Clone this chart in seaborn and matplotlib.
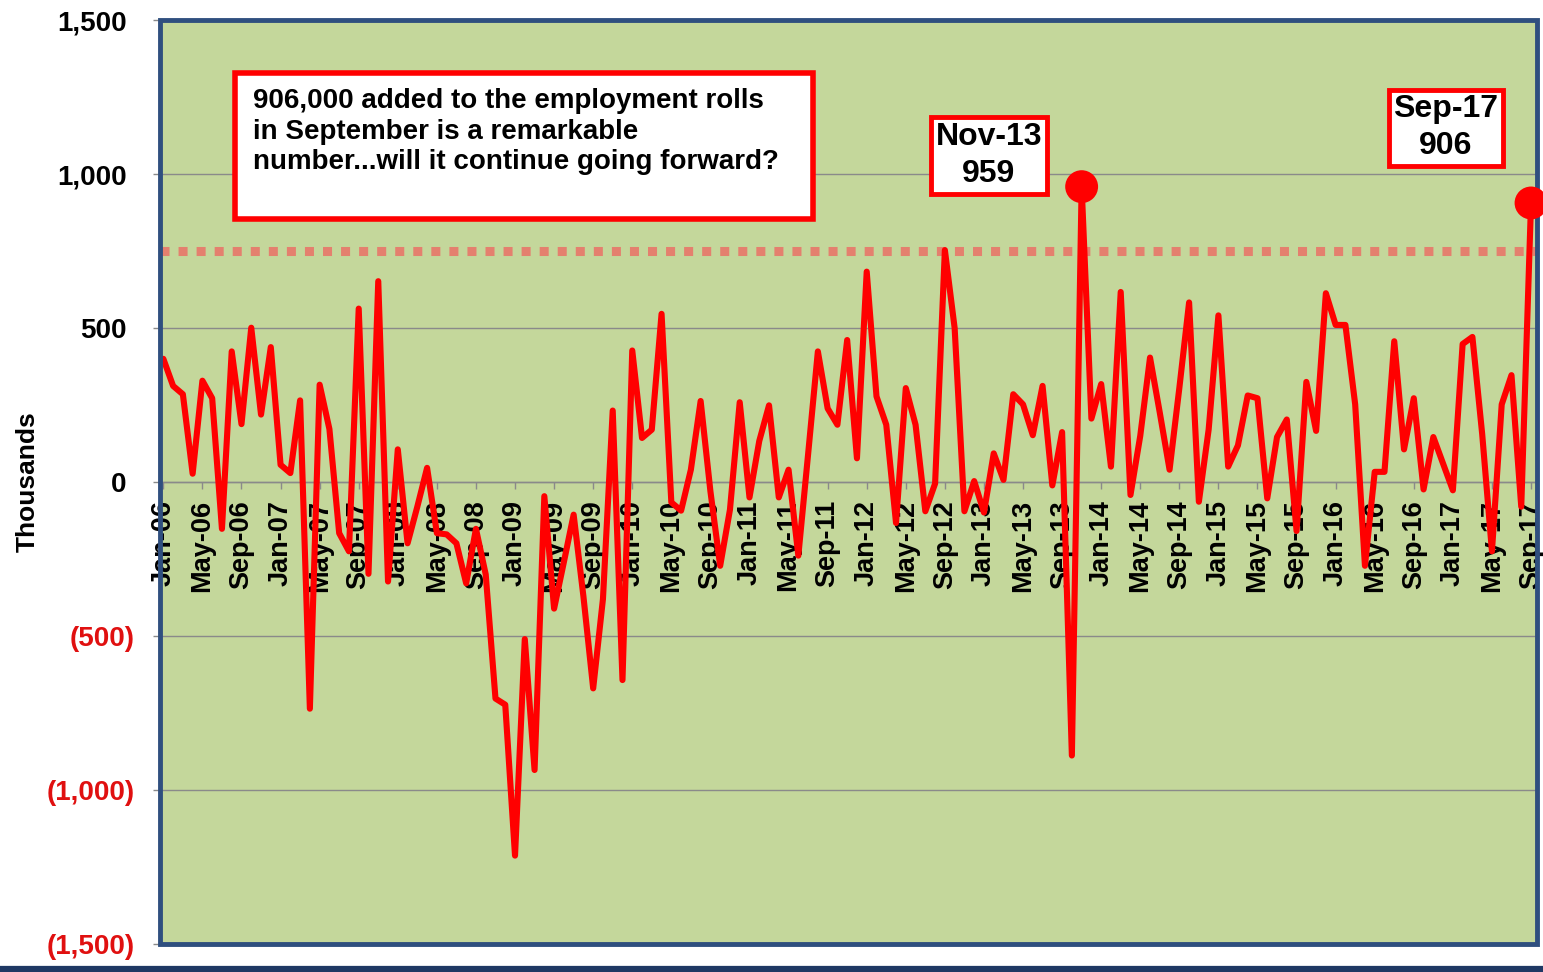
import pandas as pd
import matplotlib.pyplot as plt
import seaborn as sns
from matplotlib.patches import Rectangle
from matplotlib.lines import Line2D

# monthly change in household employment, thousands (Jan-06 .. Sep-17)
months = pd.date_range("2006-01-01", periods=141, freq="MS").strftime("%b-%y").tolist()
jobs = [
    400, 312, 285, 27, 329, 272, -152, 424, 188, 501, 219, 438,          # 2006
    56, 29, 265, -736, 316, 172, -166, -225, 563, -298, 652, -323,       # 2007
    106, -199, -80, 46, -166, -170, -199, -329, -152, -300, -703, -723,  # 2008
    -1213, -510, -935, -46, -411, -260, -106, -371, -670, -380, 232, -643,  # 2009
    427, 143, 170, 546, -66, -93, 40, 263, -30, -272, -90, 259,          # 2010
    -50, 133, 249, -50, 40, -239, 90, 424, 239, 186, 461, 77,            # 2011
    683, 278, 186, -133, 305, 186, -95, -5, 753, 500, -95, 3,            # 2012
    -99, 93, 7, 285, 252, 152, 312, -11, 162, -888, 959, 206,            # 2013
    318, 50, 617, -42, 150, 404, 225, 40, 305, 583, -64, 170,            # 2014
    541, 50, 119, 281, 272, -53, 146, 203, -159, 325, 166, 613,          # 2015
    510, 510, 252, -272, 33, 33, 457, 106, 272, -24, 146, 60,            # 2016
    -27, 448, 471, 156, -225, 252, 347, -80, 906,                        # 2017
]
highlight = ["Nov-13", "Sep-17"]
ref_level = 750
y_ticks = [-1500, -1000, -500, 0, 500, 1000, 1500]
y_tick_labels = ["(1,500)", "(1,000)", "(500)", "0", "500", "1,000", "1,500"]
note = ("906,000 added to the employment rolls\n"
        "in September is a remarkable\n"
        "number...will it continue going forward?")

df = pd.DataFrame({"month": months, "jobs": jobs})
df["idx"] = range(len(df))
hi = df[df["month"].isin(highlight)]

sns.set_style("white")
plt.rcParams["font.family"] = ["Liberation Sans", "DejaVu Sans"]
plt.rcParams["text.color"] = "black"

fig = plt.figure(figsize=(15.43, 9.72), dpi=100)
ax = fig.add_axes([0.1037, 0.0288, 0.8924, 0.9506])
ax.set_facecolor("#C4D79B")

# x axis crosses at zero, frame drawn separately (do this before tick setup,
# moving the spine resets the ticks)
for s in ["top", "left", "right"]:
    ax.spines[s].set_visible(False)
ax.spines["bottom"].set_position(("data", 0))
ax.spines["bottom"].set_color("#8A8A8A")
ax.spines["bottom"].set_linewidth(1)

ax.axhline(ref_level, color="#E4806E", lw=6.5, ls=(0, (1, 1)),
           dash_capstyle="butt", zorder=2)
sns.lineplot(data=df, x="idx", y="jobs", color="#FF0000", lw=4.4, ax=ax, zorder=3)
sns.scatterplot(data=hi, x="idx", y="jobs", color="#FF0000", s=560,
                edgecolor="none", ax=ax, zorder=4, clip_on=False)

ax.set_xlim(-0.34, 140.61)
ax.set_ylim(-1500, 1500)

ax.set_yticks(y_ticks)
ax.set_yticklabels(y_tick_labels, fontsize=20, fontweight="bold")
for lab, v in zip(ax.get_yticklabels(), y_ticks):
    lab.set_color("#E01010" if v < 0 else "black")
ax.tick_params(axis="y", length=5, color="#8A8A8A", width=1, left=True)
for tick, v in zip(ax.yaxis.get_major_ticks(), y_ticks):
    tick.set_pad(19 if v >= 0 else 13)
ax.grid(axis="y", color="#8A8A8A", lw=1)

ax.set_xticks(df["idx"][::4])
ax.set_xticklabels(df["month"][::4], rotation=90, fontsize=19.5,
                   fontweight="bold", color="black")
ax.tick_params(axis="x", length=5, color="#8A8A8A", width=1, pad=8, bottom=True)

ax.add_patch(Rectangle((0, 0), 1, 1, transform=ax.transAxes, fill=False,
                       edgecolor="#2F4F7F", lw=3.5, clip_on=False, zorder=3.5))

ax.set_xlabel("")
ax.set_ylabel("Thousands", fontsize=19, fontweight="bold", color="black")
ax.yaxis.set_label_coords(-0.087, 0.5)

# comment box
ax.add_patch(Rectangle((0.0545, 0.7846), 0.4197, 0.158, transform=ax.transAxes,
                       facecolor="white", edgecolor="#FF0000", lw=4, zorder=5))
ax.text(0.0675, 0.926, note, transform=ax.transAxes, ha="left", va="top",
        fontsize=20, fontweight="bold", linespacing=1.22, color="black", zorder=6)

# call-outs for the two peaks
callout_pos = {"Nov-13": (84.5, 1060), "Sep-17": (131.3, 1150)}
for _, row in hi.iterrows():
    x, y = callout_pos[row["month"]]
    ax.text(x, y, f"{row['month']}\n{row['jobs']}", ha="center", va="center",
            fontsize=23, fontweight="bold", linespacing=1.3, color="black", zorder=6,
            bbox=dict(boxstyle="square,pad=0.15", fc="white", ec="#FF0000", lw=3.5))

fig.add_artist(Line2D([0, 1], [0.003, 0.003], transform=fig.transFigure,
                      color="#1F3864", lw=4.5))

fig.savefig("out.png", dpi=100)
